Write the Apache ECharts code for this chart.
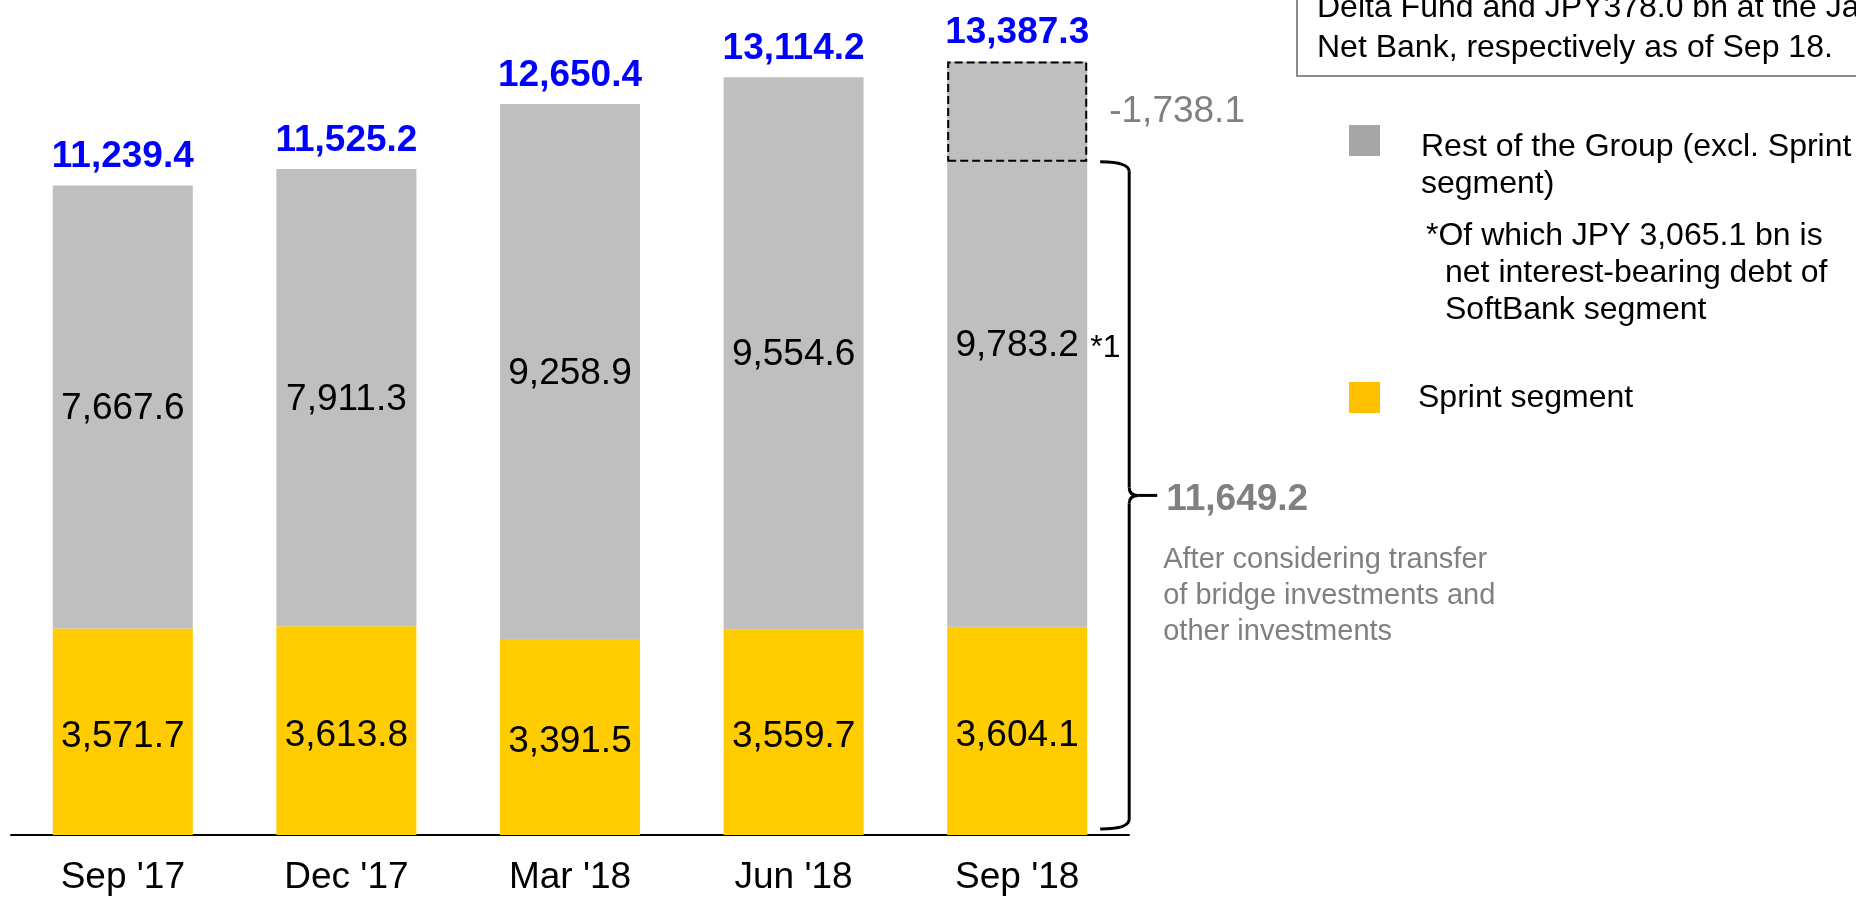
<!DOCTYPE html>
<html>
<head>
<meta charset="utf-8">
<script src="https://cdn.jsdelivr.net/npm/echarts@6/dist/echarts.min.js"></script>
<style>
  html, body { margin: 0; padding: 0; background: #fff; }
  #chart { width: 1856px; height: 897px; }
</style>
</head>
<body>
<div id="chart"></div>
<script>
const categories = ["Sep '17", "Dec '17", "Mar '18", "Jun '18", "Sep '18"];
const sprintValues = [3571.7, 3613.8, 3391.5, 3559.7, 3604.1];
const restValues = [7667.6, 7911.3, 9258.9, 9554.6, 9783.2];
const totalValues = [11239.4, 11525.2, 12650.4, 13114.2, 13387.3];
// Sep '18 adjustment shown as dashed box on top of the last bar
const adjustedValue = 11649.2;
const adjustment = 1738.1;

const FONT = "'Liberation Sans', Arial, sans-serif";
const BAR_W = 140;

const fmt = v => v.toLocaleString('en-US', { minimumFractionDigits: 1, maximumFractionDigits: 1 });

const chart = echarts.init(document.getElementById('chart'), null, { renderer: 'canvas' });

const option = {
    animation: false,
    grid: { left: 11, right: 727, top: 26, bottom: 62 },
    xAxis: {
        type: 'category',
        data: categories,
        axisLine: { lineStyle: { color: '#000', width: 2 } },
        axisTick: { show: false },
        axisLabel: { fontSize: 37, color: '#000', fontFamily: FONT, margin: 24 }
    },
    yAxis: { type: 'value', min: 0, max: 14000, show: false },
    series: [
        {
            name: 'Sprint segment', type: 'bar', stack: 'main', barWidth: BAR_W, barGap: '-100%',
            data: sprintValues,
            itemStyle: { color: '#ffcc00' },
            label: { show: true, position: 'inside', offset: [0, 5], fontSize: 37, color: '#000',
                     fontFamily: FONT, formatter: p => fmt(p.value) }
        },
        {
            name: 'Rest of the Group', type: 'bar', stack: 'main', barWidth: BAR_W, barGap: '-100%',
            data: restValues,
            itemStyle: { color: '#bfbfbf' },
            label: { show: true, position: 'inside', offset: [0, 2], fontSize: 37, color: '#000',
                     fontFamily: FONT, formatter: p => fmt(p.value) }
        },
        {
            name: 'Total', type: 'bar', stack: 'total', barWidth: BAR_W, barGap: '-100%',
            data: totalValues,
            itemStyle: { color: 'rgba(0,0,0,0)' },
            label: { show: true, position: 'top', distance: 10, fontSize: 37, fontWeight: 'bold',
                     color: '#0000ff', fontFamily: FONT, formatter: p => fmt(p.value) },
            z: 5
        },
        {
            name: 'boxBase', type: 'bar', stack: 'box', barWidth: BAR_W, barGap: '-100%',
            data: [null, null, null, null, adjustedValue],
            itemStyle: { color: 'rgba(0,0,0,0)' },
            z: 4
        },
        {
            name: 'Adjustment', type: 'bar', stack: 'box', barWidth: BAR_W, barGap: '-100%',
            data: [null, null, null, null, adjustment],
            itemStyle: { color: 'rgba(0,0,0,0)', borderColor: '#000', borderWidth: 2, borderType: [8, 4] },
            label: { show: true, position: 'right', distance: 22, fontSize: 37, color: '#808080',
                     fontFamily: FONT, formatter: p => '-' + fmt(p.value) },
            z: 6
        }
    ]
};
chart.setOption(option);

// annotations: bracket, notes and legend
const last = categories[categories.length - 1];
const [cx, topY] = chart.convertToPixel({ xAxisIndex: 0, yAxisIndex: 0 }, [last, adjustedValue]);
const baseY = chart.convertToPixel({ yAxisIndex: 0 }, 0) - 6;
const restMid = chart.convertToPixel({ yAxisIndex: 0 }, sprintValues[4] + restValues[4] / 2);
const midY = (topY + baseY) / 2;
const xL = cx + 83, xV = cx + 112, xT = cx + 140;

const braceStyle = { fill: null, stroke: '#000', lineWidth: 3 };
const seg = (x1, y1, x2, y2) => ({ type: 'line', silent: true, shape: { x1, y1, x2, y2 }, style: braceStyle });
const curve = (x1, y1, cpx, cpy, x2, y2) => ({
    type: 'bezierCurve', silent: true,
    shape: { x1, y1, cpx1: cpx, cpy1: cpy, x2, y2 }, style: braceStyle
});

const txt = (text, x, y, size, color, weight) => ({
    type: 'text', x: x, y: y, silent: true,
    style: { text: text, fill: color || '#000', fontSize: size, fontFamily: FONT,
             fontWeight: weight || 'normal', verticalAlign: 'middle', align: 'left' }
});

chart.setOption({
    graphic: [
        curve(xL, topY, xV, topY, xV, topY + 10),
        seg(xV, topY + 10, xV, midY - 8),
        curve(xV, midY - 8, xV, midY, xV + 9, midY),
        seg(xV + 9, midY, xT, midY),
        curve(xV, midY + 8, xV, midY, xV + 9, midY),
        seg(xV, midY + 8, xV, baseY - 10),
        curve(xV, baseY - 10, xV, baseY, xL, baseY),

        txt('*1', cx + 73, restMid + 4, 32),
        txt('11,649.2', xT + 9, midY + 4, 37, '#808080', 'bold'),
        txt('After considering transfer', xT + 6, midY + 65, 29, '#808080'),
        txt('of bridge investments and', xT + 6, midY + 101, 29, '#808080'),
        txt('other investments', xT + 6, midY + 137, 29, '#808080'),

        // note box at top right
        { type: 'rect', shape: { x: 1297, y: -20, width: 700, height: 96 }, silent: true,
          style: { fill: '#fff', stroke: '#8c8c8c', lineWidth: 2 } },
        txt('Delta Fund and JPY378.0 bn at the Japan', 1317, 8, 32),
        txt('Net Bank, respectively as of Sep 18.', 1317, 48, 32),

        // legend
        { type: 'rect', shape: { x: 1349, y: 125, width: 31, height: 31 }, silent: true,
          style: { fill: '#a6a6a6' } },
        txt('Rest of the Group (excl. Sprint', 1421, 147, 32),
        txt('segment)', 1421, 184, 32),
        txt('*Of which JPY 3,065.1 bn is', 1426, 236, 32),
        txt('net interest-bearing debt of', 1445, 273, 32),
        txt('SoftBank segment', 1445, 310, 32),
        { type: 'rect', shape: { x: 1349, y: 382, width: 31, height: 31 }, silent: true,
          style: { fill: '#ffc000' } },
        txt('Sprint segment', 1418, 398, 32)
    ]
});
</script>
</body>
</html>
